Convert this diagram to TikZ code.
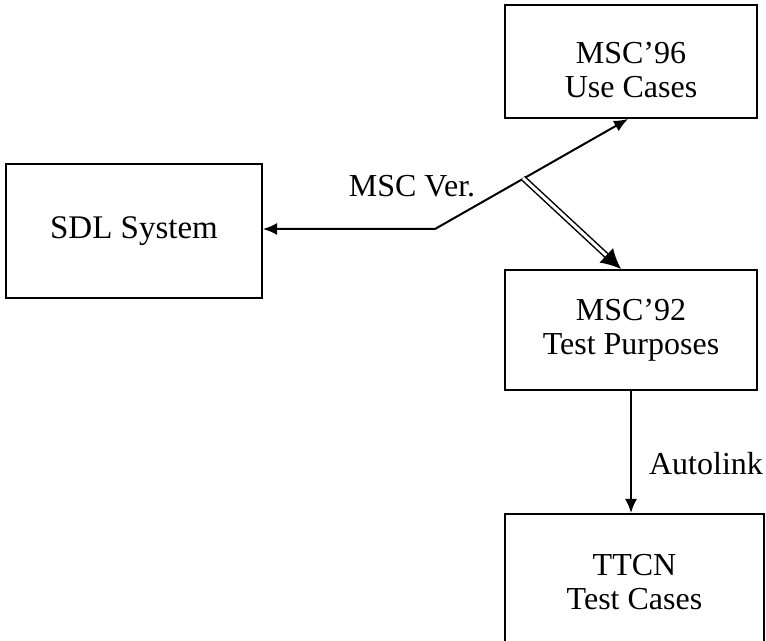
\documentclass[tikz,border=0pt]{standalone}
\usepackage{fontspec}
\setmainfont{Liberation Serif}
\usetikzlibrary{arrows.meta, positioning}

\begin{document}
\begin{tikzpicture}[x=0.5pt, y=-0.5pt, line width=1pt,
        >={Latex[length=7pt, width=6pt]},
        box/.style={draw, rectangle, align=center, inner sep=0pt, font=\fontsize{16}{17}\selectfont},
        lbl/.style={font=\fontsize{16}{18}\selectfont, inner sep=0pt}]
        \useasboundingbox (0,0) rectangle (766,641);

        \node[box, minimum width=128pt, minimum height=67pt, font=\fontsize{16.5}{18}\selectfont] (sdl) at (134, 231) {SDL System};
        \node[box, minimum width=126pt, minimum height=56.5pt] (msc96) at (631, 61.5) {\rule{0pt}{19pt}MSC'96\\Use Cases};
        \node[box, minimum width=126pt, minimum height=60pt] (msc92) at (631, 330) {MSC'92\\Test Purposes};
        \node[box, minimum width=129.5pt, minimum height=68pt] (ttcn) at (634.5, 582) {TTCN\\Test Cases};

        \node[lbl] (ver) at (412, 186) {MSC Ver.};
        \node[lbl] (auto) at (706, 464) {Autolink};

        \coordinate (bend) at (435, 229);
        \coordinate (jn) at (523, 178);

        \draw[<->] (bend -| sdl.east) -- (bend) -- ([xshift=-1.5pt]msc96.south);
        \draw[double, double distance=1.5pt, line width=0.75pt, -{Latex[length=10pt, width=10pt]}]
            (jn) -- ([xshift=-5pt]msc92.north);
        \draw[->] (msc92.south) -- (msc92.south |- ttcn.north);
    \end{tikzpicture}
\end{document}
